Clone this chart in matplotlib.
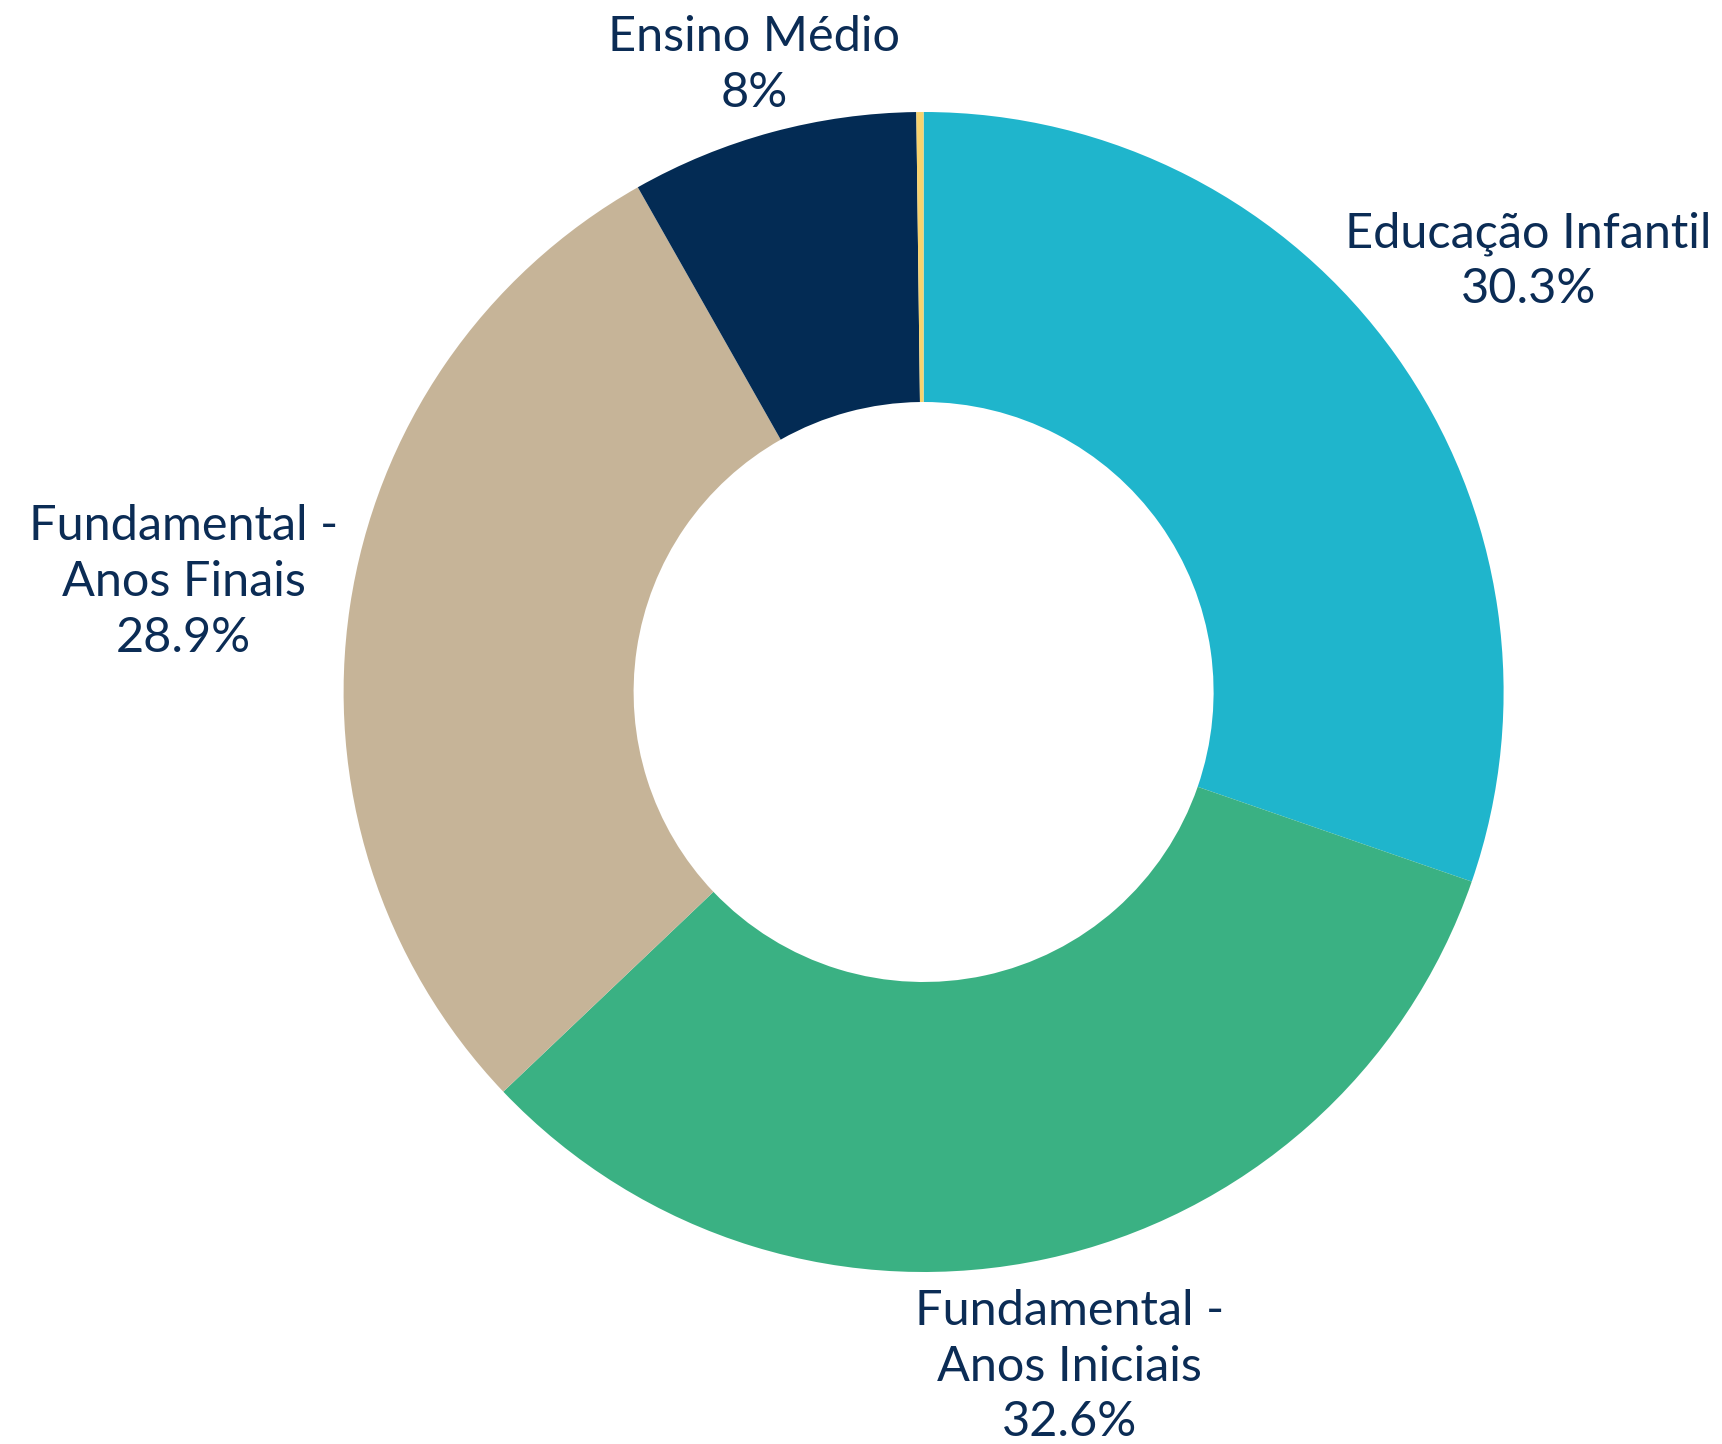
import numpy as np
import matplotlib.pyplot as plt

categories = ["Educação Infantil", "Fundamental -\nAnos Iniciais", "Fundamental -\nAnos Finais",
              "Ensino Médio", ""]
values = [30.3, 32.6, 28.9, 8.0, 0.2]
pct_labels = ["30.3%", "32.6%", "28.9%", "8%", ""]
colors = ["#1FB5CC", "#3AB183", "#C6B498", "#032B54", "#F8D36E"]
label_dist = [1.28, 1.19, 1.29, 1.12, 0]

text_color = "#0B2C55"
plt.rcParams['font.family'] = ['Lato', 'DejaVu Sans']

fig = plt.figure(figsize=(17.22, 14.44), dpi=100)
cx, cy = 923.6 / 1722, 1 - 692 / 1444
rw, rh = 580 / 1722, 580 / 1444
ax = fig.add_axes([cx - rw, cy - rh, 2 * rw, 2 * rh])

wedges, _ = ax.pie(values, colors=colors, startangle=90, counterclock=False,
                   wedgeprops=dict(width=0.5, linewidth=0))
ax.set_xlim(-1, 1)
ax.set_ylim(-1, 1)
ax.set_aspect('equal')

for w, cat, pct, d in zip(wedges, categories, pct_labels, label_dist):
    if not cat:
        continue
    ang = np.deg2rad((w.theta1 + w.theta2) / 2)
    ax.text(d * np.cos(ang), d * np.sin(ang), f"{cat}\n{pct}", ha='center', va='center',
            fontsize=35, color=text_color, linespacing=1.33, clip_on=False)

fig.savefig("out.png", dpi=100, facecolor="white")
